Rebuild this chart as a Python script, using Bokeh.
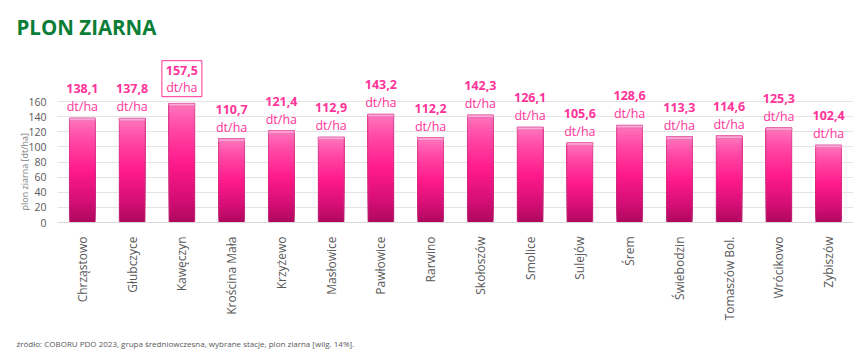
import numpy as np
from bokeh.plotting import figure
from bokeh.models import Title, FixedTicker, Range1d, ColumnDataSource
from bokeh.core.properties import value
from bokeh.embed import file_html
from bokeh.resources import INLINE

# ---- data ----
stations = ["Chrząstowo", "Głubczyce", "Kawęczyn", "Krościna Mała", "Krzyżewo",
            "Masłowice", "Pawłowice", "Rarwino", "Skołoszów", "Smolice",
            "Sulejów", "Śrem", "Świebodzin", "Tomaszów Bol.", "Wrócikowo", "Zybiszów"]
yields = [138.1, 137.8, 157.5, 110.7, 121.4, 112.9, 143.2, 112.2, 142.3, 126.1,
          105.6, 128.6, 113.3, 114.6, 125.3, 102.4]
y_ticks = [0, 20, 40, 60, 80, 100, 120, 140, 160]
unit = "dt/ha"
title_text = "PLON ZIARNA"
y_title = "plon ziarna [dt/ha]"
source_text = "źródło: COBORU PDO 2023, grupa średniowczesna, wybrane stacje, plon ziarna [wilg. 14%]."

FONT = "Open Sans"
PINK = "#ff3399"
GRAY = "#595959"
W, H = 853, 360
TOP, BOTTOM = 50, 136
FRAME_H = H - TOP - BOTTOM
PX_PER_UNIT = 0.765
Y_END = FRAME_H / PX_PER_UNIT

p = figure(x_range=stations, y_range=Range1d(0, Y_END), width=W, height=H,
           output_backend="svg", toolbar_location=None,
           min_border_left=57, min_border_right=0, min_border_top=TOP,
           min_border_bottom=BOTTOM)
p.outline_line_color = None
p.background_fill_color = "white"
p.border_fill_color = "white"

# gradient bars via overlapping slices (fractions of each bar's height)
stops = [(0.0, (0xae, 0x08, 0x5e)), (0.2, (0xd4, 0x0e, 0x75)), (0.5, (0xff, 0x1a, 0x8c)),
         (0.8, (0xff, 0x4a, 0xa6)), (1.0, (0xff, 0x78, 0xbe))]
def col_at(f):
    for (f0, c0), (f1, c1) in zip(stops[:-1], stops[1:]):
        if f0 <= f <= f1:
            t = (f - f0) / (f1 - f0)
            c = [int(round(a + (b - a) * t)) for a, b in zip(c0, c1)]
            return "#%02x%02x%02x" % tuple(c)
    return "#%02x%02x%02x" % stops[-1][1]

N = 40
xs, bots, tops, cols = [], [], [], []
for i in range(N):
    for s, v in zip(stations, yields):
        xs.append(s)
        bots.append(v * i / N)
        tops.append(v)
        cols.append(col_at((i + 0.5) / N))
p.vbar(x=xs, bottom=bots, top=tops, width=0.52, fill_color=cols, line_color=None)

# outline and top cap
p.vbar(x=stations, top=yields, width=0.52, fill_color=None, line_color="#c23d80",
       line_alpha=0.6, line_width=1)
cap_h = 3.5
p.vbar(x=stations, bottom=[v - cap_h for v in yields], top=yields, width=0.52,
       fill_color="#ffa8d6", line_color="#e86aae", line_width=0.8)

# grid / axes
p.yaxis.ticker = FixedTicker(ticks=y_ticks)
p.ygrid.ticker = FixedTicker(ticks=y_ticks)
p.ygrid.grid_line_color = "#e4e4e4"
p.ygrid.grid_line_width = 1.2
p.xgrid.grid_line_color = None
p.yaxis.axis_line_color = None
p.yaxis.major_tick_line_color = None
p.yaxis.minor_tick_line_color = None
p.yaxis.major_label_standoff = 5
p.yaxis.major_label_text_font = FONT
p.yaxis.major_label_text_font_size = "10.5px"
p.yaxis.major_label_text_color = GRAY
p.xaxis.axis_line_color = "#d9d9d9"
p.xaxis.axis_line_width = 1.2
p.xaxis.major_tick_line_color = None
p.xaxis.minor_tick_line_color = None
p.xaxis.major_label_orientation = np.pi / 2
p.xaxis.major_label_standoff = 8
p.xaxis.major_label_text_font = FONT
p.xaxis.major_label_text_font_size = "12px"
p.xaxis.major_label_text_color = GRAY

# value labels
vmax = max(yields)
lab_num = [f"{v:.1f}".replace(".", ",") for v in yields]
is_max = [v == vmax for v in yields]
src = ColumnDataSource(dict(
    x=stations, y=yields, num=lab_num, unit=[unit] * len(yields),
    off_num=[-33 if m else -29.5 for m in is_max],
    off_unit=[-15.5 if m else -11.5 for m in is_max]))
p.text(x="x", y="y", text="num", source=src, y_offset="off_num",
       text_align="center", text_baseline="middle", text_font=value(FONT),
       text_font_size="12.5px", text_font_style="bold", text_color=PINK)
p.text(x="x", y="y", text="unit", source=src, y_offset="off_unit",
       text_align="center", text_baseline="middle", text_font=value(FONT),
       text_font_size="12.5px", text_color=PINK)

# box around max label
imax = yields.index(vmax)
p.rect(x=[stations[imax]], y=[vmax + 25 / PX_PER_UNIT], width=40, height=36,
       width_units="screen", height_units="screen", fill_color=None,
       line_color=PINK, line_width=1)

# titles placed in the side panels
p.add_layout(Title(text=title_text, align="left", offset=-41, standoff=15,
                   vertical_align="top",
                   text_font=FONT, text_font_size="20.5px", text_font_style="bold",
                   text_color="#0a7d36"), "above")
p.add_layout(Title(text=y_title, align="left", offset=12, standoff=-10,
                   text_font=FONT, text_font_size="9px", text_font_style="normal",
                   text_color="#808080"), "left")
p.add_layout(Title(text=source_text, align="left", offset=-41, standoff=24,
                   text_font=FONT, text_font_size="8px", text_font_style="normal",
                   text_color=GRAY), "below")

open("out.html", "w").write(file_html(p, INLINE))
